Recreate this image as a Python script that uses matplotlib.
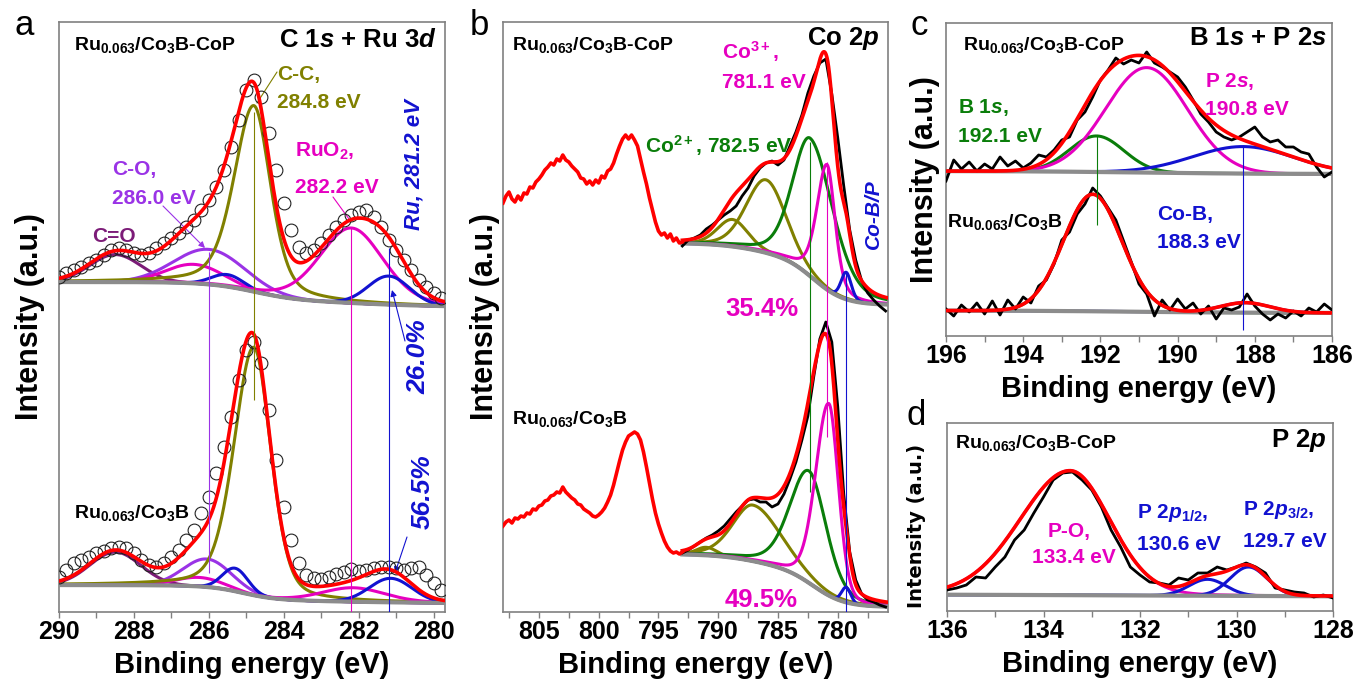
import numpy as np
import matplotlib.pyplot as plt
from matplotlib.ticker import MultipleLocator

plt.rcParams['font.family'] = ['Liberation Sans', 'DejaVu Sans']
plt.rcParams['font.weight'] = 'bold'
plt.rcParams['axes.labelweight'] = 'bold'
plt.rcParams['mathtext.fontset'] = 'custom'
plt.rcParams['mathtext.rm'] = 'Liberation Sans:bold'
plt.rcParams['mathtext.it'] = 'Liberation Sans:italic:bold'
plt.rcParams['mathtext.bf'] = 'Liberation Sans:bold'

RED, BLK, GRAY = '#ff0000', '#000000', '#8c8c8c'
OLIVE, GREEN, BLUE, MAG = '#808000', '#0a7d0a', '#1212d0', '#e600c0'
PURP, DPURP = '#9a33e6', '#7c1c78'

# ---------------- data (intensity in arbitrary units) ----------------
# panel a : C 1s + Ru 3d, open circles = measured points
a_E = np.round(np.arange(290.0, 279.75, -0.2), 1)
a_top_obs = [335, 339, 342, 345, 349, 352, 357, 362, 364, 362, 359, 357, 359, 364, 369, 374, 379, 385, 392, 402,
             412, 425, 442, 465, 492, 522, 532, 515, 479, 442, 409, 382, 365, 359, 362, 369, 377, 385, 392, 397,
             400, 402, 395, 385, 372, 362, 352, 342, 332, 325, 319, 314]
a_bot_obs = [35, 42, 49, 52, 55, 59, 61, 64, 65, 64, 59, 52, 47, 45, 49, 55, 62, 72, 82, 99,
             115, 139, 165, 195, 232, 262, 270, 249, 202, 152, 105, 72, 49, 37, 34, 33, 35, 38, 40, 43,
             41, 42, 44, 45, 45, 44, 42, 44, 45, 37, 29, 22]
# fitted components: C=O, C-O, RuO2 3d3/2, Ru 3d3/2, C-C, RuO2 3d5/2, Ru 3d5/2
a_top_pos = [288.5, 286.0, 286.4, 285.5, 284.8, 282.2, 281.2]
a_top_amp = [27.5, 35, 19, 12, 186, 75, 28.5]
a_top_wl = [1.6, 2.2, 1.8, 1.0, 1.25, 2.0, 1.3]
a_top_wr = [1.6, 2.2, 1.8, 1.0, 1.05, 2.0, 1.3]
a_top_eta = [0, 0, 0, 0, 0.4, 0.2, 0]
a_top_bg = [305, 18, 7]          # low level, step sizes
a_top_step = [284.8, 282.0]
a_bot_pos = [288.5, 286.05, 286.25, 285.3, 284.8, 282.15, 281.15]
a_bot_amp = [33, 28, 9, 23, 248, 14, 24]
a_bot_wl = [1.6, 1.5, 1.5, 0.8, 1.24, 2.0, 1.33]
a_bot_wr = [1.6, 1.5, 1.5, 0.8, 1.07, 2.0, 1.33]
a_bot_eta = [0, 0, 0, 0, 0.3, 0.2, 0]
a_bot_bg = [8.7, 14, 4.3]
a_bot_step = [285.1, 283.0]
a_cols = [DPURP, PURP, MAG, BLUE, OLIVE, MAG, BLUE]

# panel b : Co 2p
b_E_sat = np.arange(808.0, 792.9, -0.25)
b_top_sat = [409, 416, 420, 413, 410, 416, 412, 419, 418, 425, 424, 430, 433, 437, 442, 445, 449, 447, 453, 451,
             457, 452, 450, 446, 443, 440, 434, 433, 428, 431, 427, 432, 429, 436, 434, 441, 443, 449, 458, 466,
             473, 477, 473, 477, 472, 466, 453, 440, 428, 414, 402, 390, 381, 377, 379, 374, 378, 371, 374, 369, 370]
b_bot_sat = [86, 90, 92, 89, 94, 93, 96, 95, 99, 98, 103, 102, 106, 107, 111, 112, 116, 117, 120, 119,
             125, 120, 117, 114, 112, 108, 107, 103, 101, 99, 96, 95, 97, 100, 104, 110, 117, 127, 139, 151,
             162, 170, 176, 178, 180, 178, 172, 160, 145, 129, 113, 99, 88, 79, 71, 65, 61, 59, 60, 58, 60]
b_E = np.arange(793.0, 775.9, -0.5)
b_top_obs = [366, 372, 374, 377, 383, 387, 392, 397, 401, 406, 416, 424, 436, 444, 449, 451, 447, 452, 466, 480,
             497, 519, 536, 549, 553, 518, 474, 426, 382, 352, 331, 319, 312, 306, 301]
b_bot_obs = [59, 62, 66, 70, 74, 77, 81, 86, 93, 100, 106, 112, 113, 110, 110, 105, 108, 118, 133, 150,
             172, 196, 236, 273, 290, 270, 205, 118, 60, 32, 18, 12, 10, 7, 5]
# satellite 1, satellite 2, Co2+, Co3+, Co-B/P
b_top_pos = [788.8, 786.0, 782.3, 780.9, 779.3]
b_top_amp = [27, 73, 138, 125, 27]
b_top_wl = [3.0, 3.9, 3.5, 2.0, 1.0]
b_top_wr = [3.0, 3.9, 4.5, 1.6, 1.0]
b_top_eta = [0.2, 0.2, 0.3, 0.4, 0.2]
b_top_bg = [307, 50, 12]
b_bot_pos = [791.0, 787.1, 782.4, 780.75, 779.3]
b_bot_amp = [8, 56, 112, 192, 15]
b_bot_wl = [2.0, 4.0, 3.8, 2.6, 0.9]
b_bot_wr = [2.0, 5.5, 3.4, 1.9, 0.9]
b_bot_eta = [0, 0.3, 0.3, 0.2, 0]
b_bot_bg = [5, 40, 13]
b_step = [782.0, 787.0]
b_cols = [OLIVE, OLIVE, GREEN, MAG, BLUE]

# panel c : B 1s + P 2s
c_E = np.round(np.arange(196.0, 185.9, -0.2), 1)
c_top_obs = [155, 176, 167, 174, 165, 172, 167, 179, 170, 175, 168, 173, 181, 179, 186, 196, 199, 216, 224, 239,
             256, 266, 278, 272, 276, 273, 284, 273, 269, 264, 259, 249, 236, 222, 214, 204, 199, 196, 199, 204,
             209, 199, 194, 196, 189, 189, 184, 182, 169, 159, 164]
c_bot_obs = [27, 20, 31, 24, 33, 22, 35, 21, 36, 27, 39, 33, 50, 56, 72, 96, 104, 122, 132, 148,
             140, 128, 116, 95, 74, 52, 42, 20, 36, 26, 37, 27, 33, 22, 30, 17, 28, 26, 29, 42,
             30, 22, 16, 22, 18, 25, 20, 28, 24, 32, 26]
c_top_pos = [192.1, 190.8, 188.3]          # B 1s, P 2s, Co-B
c_top_amp = [36, 105, 27]
c_top_w = [1.66, 2.5, 3.1]
c_top_bg = [162, 3]
c_bot_pos = [192.2, 188.25]
c_bot_amp = [117, 10]
c_bot_w = [1.77, 1.5]
c_bot_bg = [23, 2.5]
c_step = [191.0]
c_top_cols = [GREEN, MAG, BLUE]
c_bot_cols = [GREEN, BLUE]

# panel d : P 2p
d_E = np.round(np.arange(136.0, 127.9, -0.2), 1)
d_obs = [21, 23, 26, 34, 33, 44, 54, 71, 81, 98, 114, 131, 138, 139, 131, 121, 104, 81, 64, 44,
         36, 29, 28, 26, 33, 31, 38, 38, 44, 41, 44, 48, 44, 38, 23, 21, 19, 18, 14, 16, 13]
d_pos = [133.45, 130.6, 129.75]            # P-O, P 2p1/2, P 2p3/2
d_amp = [124.5, 16.5, 29]
d_wl = [2.45, 0.9, 0.9]
d_wr = [1.95, 0.9, 0.9]
d_eta = [0.08, 0, 0]
d_bg = [14.3, 2.4]
d_step = [132.0]
d_cols = [MAG, BLUE, BLUE]


def line_shape(E, pos, amp, wl, wr, eta):
    w = np.where(E >= pos, wl, wr)
    x = (E - pos) / w
    return amp * ((1 - eta) * np.exp(-4 * np.log(2) * x ** 2) + eta / (1 + 4 * x ** 2))


def background(E, levels, steps, width):
    bg = np.full(E.shape, float(levels[0]))
    for p, a in zip(steps, levels[1:]):
        bg += a / (1 + np.exp(-(E - p) / width))
    return bg


def draw_fit(ax, E, bg, pos, amp, wl, wr, eta, cols):
    total = bg.copy()
    for p, a, l, r, e, c in zip(pos, amp, wl, wr, eta, cols):
        comp = line_shape(E, p, a, l, r, e)
        ax.plot(E, bg + comp, color=c, lw=2.2, zorder=2)
        total += comp
    ax.plot(E, bg, color=GRAY, lw=3, zorder=3)
    return total


W, H = 1354, 682
fig = plt.figure(figsize=(13.54, 6.82), dpi=100)


def add_ax(l, t, r, b):
    return fig.add_axes([l / W, 1 - b / H, (r - l) / W, (b - t) / H])


ax_a = add_ax(59, 22, 445, 612)
ax_b = add_ax(503, 22, 888, 612)
ax_c = add_ax(946, 23, 1332, 336)
ax_d = add_ax(947, 423, 1333, 611)

# ---- a
Ea = np.linspace(290.0, 279.7, 800)
bg1 = background(Ea, [a_top_bg[0], a_top_bg[1]], a_top_step[:1], 0.6) + \
    background(Ea, [0, a_top_bg[2]], a_top_step[1:], 1.2)
tot = draw_fit(ax_a, Ea, bg1, a_top_pos, a_top_amp, a_top_wl, a_top_wr, a_top_eta, a_cols)
ax_a.plot(a_E, a_top_obs, 'o', mfc='none', mec='#222222', ms=9.2, mew=0.8, zorder=4)
ax_a.plot(Ea, tot, color=RED, lw=2.6, zorder=5)
bg2 = background(Ea, [a_bot_bg[0], a_bot_bg[1]], a_bot_step[:1], 0.45) + \
    background(Ea, [0, a_bot_bg[2]], a_bot_step[1:], 1.5)
tot = draw_fit(ax_a, Ea, bg2, a_bot_pos, a_bot_amp, a_bot_wl, a_bot_wr, a_bot_eta, a_cols)
ax_a.plot(a_E, a_bot_obs, 'o', mfc='none', mec='#222222', ms=9.2, mew=0.8, zorder=4)
ax_a.plot(Ea, tot, color=RED, lw=2.6, zorder=5)
ax_a.vlines(a_top_pos[1], 39, 360, color=PURP, lw=0.8, zorder=6)
ax_a.vlines(a_top_pos[4], 212, 500, color=OLIVE, lw=0.8, zorder=6)
ax_a.vlines(a_top_pos[5], 0, 384, color=MAG, lw=0.8, zorder=6)
ax_a.vlines(a_top_pos[6], 0, 364, color=BLUE, lw=0.8, zorder=6)
ax_a.set_xlim(290, 279.7)
ax_a.set_ylim(0, 590)
ax_a.xaxis.set_major_locator(MultipleLocator(2))
ax_a.xaxis.set_minor_locator(MultipleLocator(1))

# ---- b
Eb = np.linspace(793.0, 775.8, 700)
for bgl, pos, amp, wl, wr, eta, sat, obs in [
        (b_top_bg, b_top_pos, b_top_amp, b_top_wl, b_top_wr, b_top_eta, b_top_sat, b_top_obs),
        (b_bot_bg, b_bot_pos, b_bot_amp, b_bot_wl, b_bot_wr, b_bot_eta, b_bot_sat, b_bot_obs)]:
    bg = background(Eb, [bgl[0], bgl[1]], b_step[:1], 1.3) + background(Eb, [0, bgl[2]], b_step[1:], 1.8)
    tot = draw_fit(ax_b, Eb, bg, pos, amp, wl, wr, eta, b_cols)
    ax_b.plot(b_E, obs, color=BLK, lw=2, zorder=4)
    ax_b.plot(Eb, tot, color=RED, lw=2.6, zorder=5)
    ax_b.plot(b_E_sat, sat, color=RED, lw=2.6, zorder=5)
ax_b.vlines(b_top_pos[2], 120, 470, color=GREEN, lw=0.8, zorder=6)
ax_b.vlines(b_top_pos[3], 175, 450, color=MAG, lw=0.8, zorder=6)
ax_b.vlines(b_top_pos[4], 0, 340, color=BLUE, lw=0.8, zorder=6)
ax_b.set_xlim(808, 775.8)
ax_b.set_ylim(0, 590)
ax_b.xaxis.set_major_locator(MultipleLocator(5))
ax_b.xaxis.set_minor_locator(MultipleLocator(2.5))

# ---- c
Ec = np.linspace(196, 186, 600)
bg = background(Ec, c_top_bg, c_step, 1.5)
tot = draw_fit(ax_c, Ec, bg, c_top_pos, c_top_amp, c_top_w, c_top_w, [0, 0, 0], c_top_cols)
ax_c.plot(c_E, c_top_obs, color=BLK, lw=2, zorder=4)
ax_c.plot(Ec, tot, color=RED, lw=2.6, zorder=5)
bg = background(Ec, c_bot_bg, c_step, 1.5)
tot = draw_fit(ax_c, Ec, bg, c_bot_pos, c_bot_amp, c_bot_w, c_bot_w, [0, 0], c_bot_cols)
ax_c.plot(c_E, c_bot_obs, color=BLK, lw=2, zorder=4)
ax_c.plot(Ec, tot, color=RED, lw=2.6, zorder=5)
ax_c.vlines(c_top_pos[0], 111, 200, color=GREEN, lw=0.8, zorder=6)
ax_c.vlines(c_top_pos[2], 6, 191, color=BLUE, lw=0.8, zorder=6)
ax_c.set_xlim(196, 186)
ax_c.set_ylim(0, 313)
ax_c.xaxis.set_major_locator(MultipleLocator(2))
ax_c.xaxis.set_minor_locator(MultipleLocator(1))

# ---- d
Ed = np.linspace(136, 128, 600)
bg = background(Ed, d_bg, d_step, 2.5)
tot = draw_fit(ax_d, Ed, bg, d_pos, d_amp, d_wl, d_wr, d_eta, d_cols)
ax_d.plot(d_E, d_obs, color=BLK, lw=2, zorder=4)
ax_d.plot(Ed, tot, color=RED, lw=2.6, zorder=5)
ax_d.set_xlim(136, 128)
ax_d.set_ylim(0, 188)
ax_d.xaxis.set_major_locator(MultipleLocator(2))
ax_d.xaxis.set_minor_locator(MultipleLocator(1))

for ax, pad in [(ax_a, 10), (ax_b, 2), (ax_c, 4)]:
    ax.set_ylabel('Intensity (a.u.)', fontsize=22, labelpad=pad)
ax_d.set_ylabel('Intensity (a.u.)', fontsize=14, family='DejaVu Sans')
ax_d.yaxis.set_label_coords(-0.054, 0.45)
for ax in [ax_a, ax_b, ax_c, ax_d]:
    ax.set_yticks([])
    ax.tick_params(axis='x', which='both', direction='out', length=4, width=1, color='#808080',
                   labelsize=18, pad=2)
    for s in ax.spines.values():
        s.set_color('#808080')
        s.set_linewidth(1.2)
    ax.set_xlabel('Binding energy (eV)', fontsize=21, labelpad=4.5)


# ---------------- text (positions in image pixels) ----------------
def txt(x, y, s, size=15, color=BLK, ha='left', rot=0, style='normal', va='baseline', **kw):
    fig.text(x / W, 1 - y / H, s, fontsize=size, color=color, ha=ha, va=va, rotation=rot,
             fontstyle=style, **kw)


def arrow(x0, y0, x1, y1, color, head=True):
    ax_a.annotate('', xy=(x1, H - y1), xytext=(x0, H - y0), xycoords='figure pixels',
                  textcoords='figure pixels', annotation_clip=False,
                  arrowprops=dict(arrowstyle='-|>' if head else '-', color=color, lw=0.8,
                                  shrinkA=0, shrinkB=0, mutation_scale=9))


CoP = 'Ru$_{0.063}$/Co$_3$B-CoP'
CoB = 'Ru$_{0.063}$/Co$_3$B'

for x, y, s in [(14, 35, 'a'), (470, 35, 'b'), (911, 35, 'c'), (907, 425, 'd')]:
    txt(x, y, s, size=25, fontweight='normal')

# a
txt(74, 50, CoP, 14)
txt(437, 47, 'C 1$s$ + Ru 3$d$', 18.5, ha='right')
txt(277, 80, 'C-C,', 15, OLIVE)
txt(277, 108, '284.8 eV', 15, OLIVE)
txt(112, 175, 'C-O,', 15, PURP)
txt(112, 204, '286.0 eV', 15, PURP)
txt(92, 242, 'C=O', 15, DPURP)
txt(295, 157, 'RuO$_2$,', 15, MAG)
txt(295, 193, '282.2 eV', 15, MAG)
txt(414, 165, 'Ru, 281.2 eV', 16, BLUE, ha='center', rot=90, style='italic', va='center')
txt(418, 357, '26.0%', 19, BLUE, ha='center', rot=90, style='italic', va='center')
txt(423, 492, '56.5%', 19, BLUE, ha='center', rot=90, style='italic', va='center')
txt(74, 518, CoB, 14)
arrow(277, 72, 257, 103, OLIVE, head=False)
arrow(163, 206, 205, 248, PURP)
arrow(333, 197, 349, 219, MAG, head=False)
arrow(405, 341, 392, 290, BLUE)
arrow(407, 537, 395, 573, BLUE)

# b
txt(512, 50, CoP, 14)
txt(880, 45, 'Co 2$p$', 18.5, ha='right')
txt(722, 59, 'Co$^{3+}$,', 15, MAG)
txt(722, 88, '781.1 eV', 15, MAG)
txt(645, 153, 'Co$^{2+}$, 782.5 eV', 15, GREEN)
txt(873, 214, 'Co-B/P', 15, BLUE, ha='center', rot=90, style='italic', va='center')
txt(725, 316, '35.4%', 18.5, MAG)
txt(512, 424, CoB, 14)
txt(725, 607, '49.5%', 18.5, MAG)
arrow(787, 92, 823, 143, MAG)
arrow(788, 147, 808, 175, GREEN)
arrow(857, 253, 832, 287, BLUE, head=False)
arrow(783, 293, 823, 248, MAG)
arrow(788, 585, 823, 540, MAG)

# c
txt(963, 50, CoP, 14)
txt(1327, 45, 'B 1$s$ + P 2$s$', 18.5, ha='right')
txt(958, 113, 'B 1$s$,', 15, GREEN)
txt(958, 142, '192.1 eV', 15, GREEN)
txt(1205, 87, 'P 2$s$,', 15, MAG)
txt(1205, 115, '190.8 eV', 15, MAG)
txt(1157, 220, 'Co-B,', 15, BLUE)
txt(1157, 248, '188.3 eV', 15, BLUE)
txt(947, 227, CoB, 14)
arrow(1050, 120, 1095, 135, GREEN)
arrow(1198, 110, 1162, 135, MAG)
arrow(1212, 200, 1242, 160, BLUE)

# d
txt(955, 448, CoP, 14)
txt(1327, 447, 'P 2$p$', 18.5, ha='right')
txt(1048, 537, 'P-O,', 15, MAG)
txt(1032, 563, '133.4 eV', 15, MAG)
txt(1137, 518, 'P 2$p_{1/2}$,', 15, BLUE)
txt(1137, 550, '130.6 eV', 15, BLUE)
txt(1243, 515, 'P 2$p_{3/2}$,', 15, BLUE)
txt(1243, 547, '129.7 eV', 15, BLUE)
arrow(1193, 558, 1208, 577, BLUE)
arrow(1263, 553, 1250, 577, BLUE)

fig.savefig('out.png', dpi=100)
